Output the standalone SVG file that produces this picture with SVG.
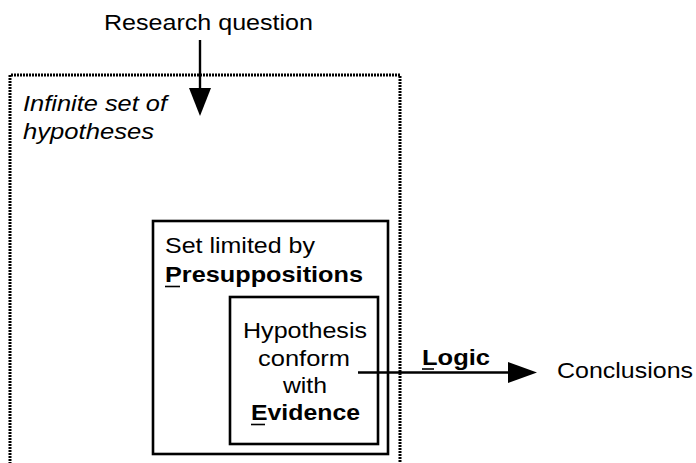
<svg xmlns="http://www.w3.org/2000/svg" width="696" height="463" viewBox="0 0 696 463">
  <style>
    text { font-family: "Liberation Sans", Arial, sans-serif; font-size: 22px; fill: #000; }
    .it { font-style: italic; }
    .b { font-weight: bold; }
    .box { fill: none; stroke: #000; stroke-width: 2.6; }
    .dotted { fill: none; stroke: #000; stroke-width: 3; stroke-dasharray: 2 1; }
    .wire { stroke: #000; stroke-width: 2.4; fill: none; }
    .ul { stroke: #000; stroke-width: 1.6; }
  </style>
  <rect width="696" height="463" fill="#fff"/>

  <!-- outer set: dotted frame, open at the bottom edge -->
  <g id="infinite-set">
    <path class="dotted" d="M10,470 V75 H400 V470"/>
    <text class="it" x="23" y="111" textLength="144" lengthAdjust="spacingAndGlyphs">Infinite set of</text>
    <text class="it" x="23" y="139" textLength="131" lengthAdjust="spacingAndGlyphs">hypotheses</text>
  </g>

  <!-- set limited by presuppositions -->
  <g id="presuppositions">
    <rect class="box" x="153" y="221" width="235" height="233"/>
    <text x="165" y="253" textLength="150" lengthAdjust="spacingAndGlyphs">Set limited by</text>
    <text class="b" x="165" y="282" textLength="198" lengthAdjust="spacingAndGlyphs">Presuppositions</text>
    <line class="ul" x1="165" y1="286.5" x2="180" y2="286.5"/>
  </g>

  <!-- hypotheses conforming with evidence -->
  <g id="evidence">
    <rect class="box" x="230" y="297" width="148" height="147"/>
    <text x="243" y="338" textLength="124" lengthAdjust="spacingAndGlyphs">Hypothesis</text>
    <text x="258" y="366" textLength="92" lengthAdjust="spacingAndGlyphs">conform</text>
    <text x="283" y="393" textLength="44" lengthAdjust="spacingAndGlyphs">with</text>
    <text class="b" x="251" y="420" textLength="109" lengthAdjust="spacingAndGlyphs">Evidence</text>
    <line class="ul" x1="251" y1="424.5" x2="265" y2="424.5"/>
  </g>

  <g id="research-question">
    <text x="104" y="30" textLength="209" lengthAdjust="spacingAndGlyphs">Research question</text>
  </g>

  <g id="conclusions">
    <text x="557" y="378" textLength="136" lengthAdjust="spacingAndGlyphs">Conclusions</text>
  </g>

  <!-- connectors -->
  <g id="connectors">
    <line class="wire" x1="200" y1="40" x2="200" y2="92"/>
    <polygon points="189,88 211,88 200,116" fill="#000"/>
    <line class="wire" x1="358" y1="372.5" x2="512" y2="372.5"/>
    <polygon points="508,362 508,383 537,372.5" fill="#000"/>
    <text class="b" x="422" y="365" textLength="68" lengthAdjust="spacingAndGlyphs">Logic</text>
    <line class="ul" x1="422" y1="369" x2="434" y2="369"/>
  </g>
</svg>
